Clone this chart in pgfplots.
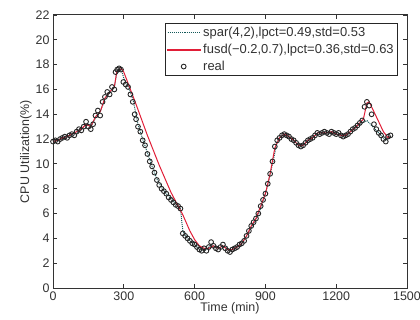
\documentclass[border=0pt]{standalone}
\usepackage{fontspec}
\setmainfont{Liberation Sans}
\usepackage{pgfplots}
\pgfplotsset{compat=1.18}
\definecolor{fusdred}{RGB}{225,30,55}
\definecolor{spargreen}{RGB}{20,90,90}
\definecolor{txt}{RGB}{50,50,50}
\pgfplotsset{
  sparleg/.style={legend image code/.code={\draw[spargreen, densely dotted, line width=1.1pt] (0bp,0bp) -- (33bp,0bp);}},
  fusdleg/.style={legend image code/.code={\fill[fusdred] (0bp,-0.45bp) rectangle (33bp,0.45bp);}},
  markleg/.style={legend image code/.code={\draw[##1] plot coordinates {(16bp,0bp)};}},
}
\begin{document}
\begin{tikzpicture}
\path[use as bounding box] (0,0) rectangle (420bp,320bp);
\begin{axis}[
  at={(53bp,32bp)}, anchor=south west,
  scale only axis, width=354bp, height=273bp,
  xmin=0, xmax=1500, ymin=0, ymax=22,
  xtick={0,300,...,1500}, ytick={0,2,...,22},
  tick align=inside, major tick length=4bp,
  /pgf/number format/assume math mode=true,
  scaled x ticks=false,
  xticklabel style={/pgf/number format/1000 sep={}},
  tick label style={font=\fontsize{12.5}{13}\selectfont, text=txt},
  label style={font=\fontsize{12.5}{13}\selectfont, text=txt},
  xlabel={Time (min)}, ylabel={CPU Utilization(\%)},
  xlabel style={yshift=5bp},
  ylabel style={yshift=-3bp},
  axis line style={line width=1pt, black!80},
  every tick/.style={black!80, line width=0.9pt},
  legend style={at={(rel axis cs:0.975,0.971)}, anchor=north east,
    font=\fontsize{13}{14}\selectfont, draw=black!85, line width=1pt,
    inner sep=2pt, row sep=2pt, cells={anchor=west, text=txt}},
]
\addplot[spargreen, densely dotted, line width=1pt, sparleg] coordinates {
(0,11.8)(20,11.9)(40,12.1)(60,12.2)(80,12.4)(100,12.5)(120,12.8)(140,13.2)(160,13.0)(180,13.7)(200,14.2)(220,15.2)(240,15.7)(260,16.2)(270,17.3)(290,17.6)(300,16.9)(320,16.2)(340,15.1)(360,13.2)(380,12.0)(400,10.9)(420,9.8)(440,8.8)(460,8.1)(480,7.6)(500,7.2)(520,6.8)(540,6.4)(550,4.6)(570,4.0)(590,3.7)(610,3.3)(630,3.0)(650,3.1)(670,3.5)(690,3.3)(710,3.2)(730,3.3)(750,3.0)(770,3.2)(790,3.4)(810,3.8)(830,4.5)(850,5.2)(870,5.9)(890,7.0)(910,8.3)(930,10.0)(950,11.8)(970,12.3)(990,12.3)(1010,12.0)(1030,11.7)(1050,11.4)(1070,11.7)(1090,12.0)(1110,12.3)(1130,12.4)(1150,12.6)(1170,12.4)(1190,12.5)(1210,12.5)(1230,12.2)(1250,12.4)(1270,12.8)(1290,13.1)(1310,13.3)(1330,13.5)(1350,13.1)(1370,12.7)(1390,12.3)(1410,11.9)(1430,12.2)
};
\addlegendentry{spar(4,2),lpct=0.49,std=0.53}
\addplot[fusdred, line width=1pt, fusdleg] coordinates {
(0,11.8)(20,11.9)(40,12.1)(60,12.2)(80,12.4)(100,12.6)(120,12.8)(140,13.2)(160,13.0)(180,13.8)(200,14.2)(220,15.3)(240,15.8)(260,16.2)(270,17.4)(290,17.7)(300,17.4)(350,14.9)(400,12.3)(450,9.9)(500,7.7)(550,5.9)(580,4.6)(600,3.9)(620,3.4)(640,3.2)(660,3.2)(680,3.4)(700,3.2)(720,3.4)(740,3.1)(760,3.1)(780,3.3)(800,3.6)(820,4.2)(840,5.0)(860,5.6)(880,6.6)(900,7.6)(920,9.2)(940,11.3)(960,12.1)(980,12.4)(1000,12.2)(1020,11.9)(1040,11.5)(1060,11.5)(1080,11.9)(1100,12.1)(1120,12.5)(1140,12.5)(1160,12.5)(1180,12.6)(1200,12.4)(1220,12.3)(1240,12.3)(1260,12.6)(1280,12.9)(1300,13.3)(1315,13.6)(1330,14.9)(1340,15.0)(1360,14.2)(1380,13.4)(1400,12.6)(1420,12.1)(1430,12.2)
};
\addlegendentry{fusd(−0.2,0.7),lpct=0.36,std=0.63}
\addplot[only marks, mark=o, mark size=2.4pt, black!85, line width=0.9pt, markleg] coordinates {
(0,11.8)(10,11.9)(20,11.8)(30,12.0)(40,12.1)(50,12.2)(60,12.1)(70,12.3)(80,12.4)(90,12.3)
(100,12.6)(110,12.8)(120,12.7)(130,13.0)(140,13.4)(150,13.0)(160,12.8)(170,13.2)(180,13.9)(190,14.3)
(200,13.9)(210,15.0)(220,15.4)(230,15.8)(240,15.6)(250,16.2)(260,16.0)(265,17.4)(272,17.6)(280,17.7)
(288,17.6)(298,16.6)(308,16.4)(318,16.2)(328,15.6)(338,15.0)(346,14.0)(352,13.6)(360,13.0)(370,12.6)
(380,11.9)(390,11.5)(400,10.8)(410,10.2)(420,9.8)(430,9.3)(440,8.7)(450,8.3)(460,8.0)(470,7.8)
(480,7.6)(490,7.3)(500,7.1)(510,6.9)(520,6.7)(530,6.6)(540,6.4)(550,4.4)(560,4.2)(570,4.0)
(580,3.8)(590,3.6)(600,3.5)(610,3.3)(620,3.1)(630,3.0)(640,3.2)(650,3.0)(660,3.3)(670,3.7)
(680,3.4)(690,3.2)(700,3.1)(710,3.3)(720,3.5)(730,3.2)(740,3.0)(750,2.9)(760,3.1)(770,3.2)
(780,3.3)(790,3.5)(800,3.6)(810,3.8)(820,4.2)(830,4.6)(840,5.0)(850,5.3)(860,5.6)(870,6.0)
(880,6.6)(890,7.1)(900,7.6)(910,8.4)(920,9.2)(930,10.2)(940,11.4)(950,11.9)(960,12.1)(970,12.3)
(980,12.4)(990,12.3)(1000,12.2)(1010,12.0)(1020,11.9)(1030,11.7)(1040,11.5)(1050,11.4)(1060,11.5)(1070,11.7)
(1080,11.9)(1090,12.0)(1100,12.1)(1110,12.3)(1120,12.5)(1130,12.4)(1140,12.5)(1150,12.6)(1160,12.5)(1170,12.4)
(1180,12.6)(1190,12.5)(1200,12.4)(1210,12.5)(1220,12.3)(1230,12.2)(1240,12.3)(1250,12.4)(1260,12.6)(1270,12.8)
(1280,12.9)(1290,13.1)(1300,13.3)(1310,13.5)(1320,14.6)(1330,15.0)(1340,14.7)(1350,14.0)(1360,13.2)(1370,12.8)
(1380,12.5)(1390,12.3)(1400,12.0)(1410,11.8)(1420,12.2)(1430,12.3)
};
\addlegendentry{real}
\end{axis}
\end{tikzpicture}
\end{document}
